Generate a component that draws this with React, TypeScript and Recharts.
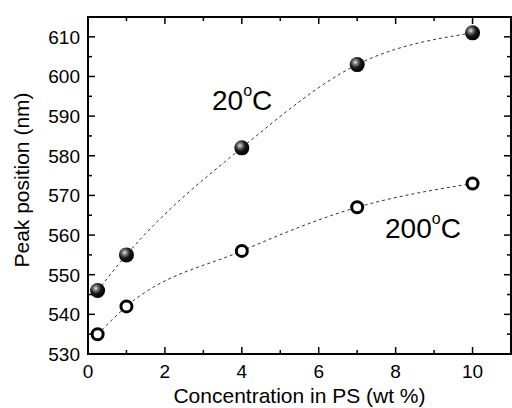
import React from "react";
import { ComposedChart, Line, XAxis, YAxis, Customized } from "recharts";

const concentration = [0.25, 1, 4, 7, 10];
const peak20C = [546, 555, 582, 603, 611];
const peak200C = [535, 542, 556, 567, 573];

const xTicks = [0, 1, 2, 3, 4, 5, 6, 7, 8, 9, 10];
const yTicks = [530, 535, 540, 545, 550, 555, 560, 565, 570, 575, 580, 585, 590, 595, 600, 605, 610];
const xMin = 0;
const xMax = 11;
const yMin = 530;
const yMax = 615;

const data = concentration.map((c, i) => ({ c, t20: peak20C[i], t200: peak200C[i] }));

const font = "'Liberation Sans', Arial, sans-serif";

const W = 512;
const H = 408;
const M_TOP = 17;
const M_RIGHT = 1;
const LEFT_W = 88;
const BOTTOM_H = 54;
const plotLeft = LEFT_W;
const plotRight = W - M_RIGHT;
const plotTop = M_TOP;
const plotBottom = H - BOTTOM_H;

const isMajorX = (v: number) => v % 2 === 0;
const isMajorY = (v: number) => v % 10 === 0;

const BottomTick = ({ payload }: any) =>
  isMajorX(payload.value) ? (
    <text x={payload.coordinate} y={plotBottom + 24} textAnchor="middle" fontSize={19} fontFamily={font} fill="#000">
      {payload.value}
    </text>
  ) : (
    <g />
  );

const LeftTick = ({ payload }: any) =>
  isMajorY(payload.value) ? (
    <text x={plotLeft - 8} y={payload.coordinate + 7} textAnchor="end" fontSize={19} fontFamily={font} fill="#000">
      {payload.value}
    </text>
  ) : (
    <g />
  );

// same linear mapping as the axes (fixed domains over the plot box)
const px = (v: number) => plotLeft + ((v - xMin) / (xMax - xMin)) * (plotRight - plotLeft);
const py = (v: number) => plotBottom - ((v - yMin) / (yMax - yMin)) * (plotBottom - plotTop);

// box with inward ticks, drawn in an overlay svg on top of the chart
const Frame = () => (
  <svg
    width={W}
    height={H}
    style={{ position: "absolute", left: 0, top: 0, pointerEvents: "none", overflow: "visible" }}
  >
    <rect
      x={plotLeft}
      y={plotTop}
      width={plotRight - plotLeft}
      height={plotBottom - plotTop}
      fill="none"
      stroke="#000"
      strokeWidth={2}
    />
    {xTicks.map((v) => {
      const len = isMajorX(v) ? 7 : 4;
      return (
        <g key={"x" + v} stroke="#000" strokeWidth={1.5}>
          <line x1={px(v)} x2={px(v)} y1={plotBottom} y2={plotBottom - len} />
          <line x1={px(v)} x2={px(v)} y1={plotTop} y2={plotTop + len} />
        </g>
      );
    })}
    {yTicks.map((v) => {
      const len = isMajorY(v) ? 7 : 4;
      return (
        <g key={"y" + v} stroke="#000" strokeWidth={1.5}>
          <line x1={plotLeft} x2={plotLeft + len} y1={py(v)} y2={py(v)} />
          <line x1={plotRight} x2={plotRight - len} y1={py(v)} y2={py(v)} />
        </g>
      );
    })}
  </svg>
);

const Sphere = ({ cx, cy, index }: any) => (
  <circle key={"s" + index} cx={cx} cy={cy} r={7.5} fill="url(#sphereFill)" />
);

const Ring = ({ cx, cy, index }: any) => (
  <circle key={"r" + index} cx={cx} cy={cy} r={5.5} fill="#fff" stroke="#000" strokeWidth={3} />
);

const XLabel = () => (
  <text x={(plotLeft + plotRight) / 2} y={plotBottom + 49} textAnchor="middle" fontSize={21} fontFamily={font} fill="#000">
    Concentration in PS (wt %)
  </text>
);

const YLabel = () => (
  <text x={29} y={180} transform="rotate(-90, 29, 180)" textAnchor="middle" fontSize={21} fontFamily={font} fill="#000">
    Peak position (nm)
  </text>
);

const Notes = () => (
  <g fontFamily={font} fill="#000">
    <text x={212} y={110} fontSize={28}>
      20
      <tspan dy={-14} fontSize={16}>o</tspan>
      <tspan dy={14}>C</tspan>
    </text>
    <text x={385} y={238} fontSize={28}>
      200
      <tspan dy={-14} fontSize={16}>o</tspan>
      <tspan dy={14}>C</tspan>
    </text>
  </g>
);

export default function App() {
  return (
    <div style={{ position: "absolute", left: 0, top: 0, width: W, height: H, background: "#fff" }}>
      <svg width={0} height={0} style={{ position: "absolute" }}>
        <defs>
          <radialGradient id="sphereFill" cx="38%" cy="35%" r="65%">
            <stop offset="0%" stopColor="#f0f0f0" />
            <stop offset="20%" stopColor="#8a8a8a" />
            <stop offset="55%" stopColor="#1a1a1a" />
            <stop offset="100%" stopColor="#000" />
          </radialGradient>
        </defs>
      </svg>
      <ComposedChart width={W} height={H} data={data} margin={{ top: M_TOP, right: M_RIGHT, bottom: 0, left: 0 }}>
        <XAxis
          dataKey="c"
          type="number"
          domain={[xMin, xMax]}
          ticks={xTicks}
          interval={0}
          height={BOTTOM_H}
          tick={<BottomTick />}
          tickLine={false}
          axisLine={{ stroke: "#000", strokeWidth: 2 }}
        />
        <YAxis
          type="number"
          domain={[yMin, yMax]}
          ticks={yTicks}
          interval={0}
          width={LEFT_W}
          tick={<LeftTick />}
          tickLine={false}
          axisLine={{ stroke: "#000", strokeWidth: 2 }}
        />
        <Line
          dataKey="t20"
          type="monotone"
          stroke="#333"
          strokeWidth={1}
          strokeDasharray="3 3"
          dot={Sphere}
          activeDot={false}
          isAnimationActive={false}
        />
        <Line
          dataKey="t200"
          type="monotone"
          stroke="#333"
          strokeWidth={1}
          strokeDasharray="3 3"
          dot={Ring}
          activeDot={false}
          isAnimationActive={false}
        />
        <Customized component={<XLabel />} />
        <Customized component={<YLabel />} />
        <Customized component={<Notes />} />
      </ComposedChart>
      <Frame />
    </div>
  );
}
